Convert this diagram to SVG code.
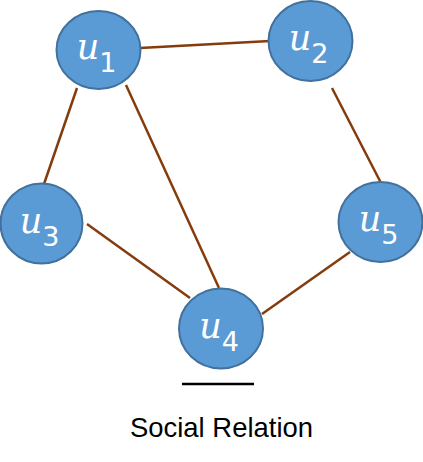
<svg xmlns="http://www.w3.org/2000/svg" width="423" height="462" viewBox="0 0 423 462">
<style>
.node{fill:#5B9BD5;stroke:#41719C;stroke-width:2}
.lbl{fill:#fff;font-family:"DejaVu Serif",serif;font-size:35px;text-anchor:middle}
.lbl .v{font-style:italic}
.lbl .s{font-size:27px;font-family:"DejaVu Sans",sans-serif}
.edge{stroke:#843C0C;stroke-width:2.5;fill:none}
</style>
<rect width="423" height="462" fill="#fff"/>
<g id="edges">
<line class="edge" x1="140" y1="48" x2="270" y2="41"/>
<line class="edge" x1="77" y1="88" x2="44" y2="184"/>
<line class="edge" x1="126" y1="85" x2="219" y2="288"/>
<line class="edge" x1="87" y1="224" x2="190" y2="298"/>
<line class="edge" x1="262" y1="314" x2="350" y2="252"/>
<line class="edge" x1="332" y1="88" x2="381" y2="183"/>
</g>
<g id="u1"><ellipse class="node" cx="98.5" cy="50" rx="42" ry="39"/>
<text class="lbl" x="96.5" y="59"><tspan class="v">u</tspan><tspan class="s" dy="13">1</tspan></text></g>
<g id="u2"><ellipse class="node" cx="310.5" cy="41" rx="42" ry="40"/>
<text class="lbl" x="308.5" y="50"><tspan class="v">u</tspan><tspan class="s" dy="13">2</tspan></text></g>
<g id="u3"><ellipse class="node" cx="41.5" cy="223.5" rx="41" ry="40"/>
<text class="lbl" x="39.5" y="232.5"><tspan class="v">u</tspan><tspan class="s" dy="13">3</tspan></text></g>
<g id="u4"><ellipse class="node" cx="221" cy="328.5" rx="42" ry="40"/>
<text class="lbl" x="219" y="337.5"><tspan class="v">u</tspan><tspan class="s" dy="13">4</tspan></text></g>
<g id="u5"><ellipse class="node" cx="380.5" cy="222" rx="42" ry="40"/>
<text class="lbl" x="378.5" y="231"><tspan class="v">u</tspan><tspan class="s" dy="13">5</tspan></text></g>
<g id="caption">
<line x1="182" y1="384" x2="254" y2="384" stroke="#000" stroke-width="2.5"/>
<text x="221.5" y="437" font-family="'Liberation Sans',sans-serif" font-size="28" text-anchor="middle" fill="#000" textLength="183" lengthAdjust="spacingAndGlyphs">Social Relation</text>
</g>
</svg>
